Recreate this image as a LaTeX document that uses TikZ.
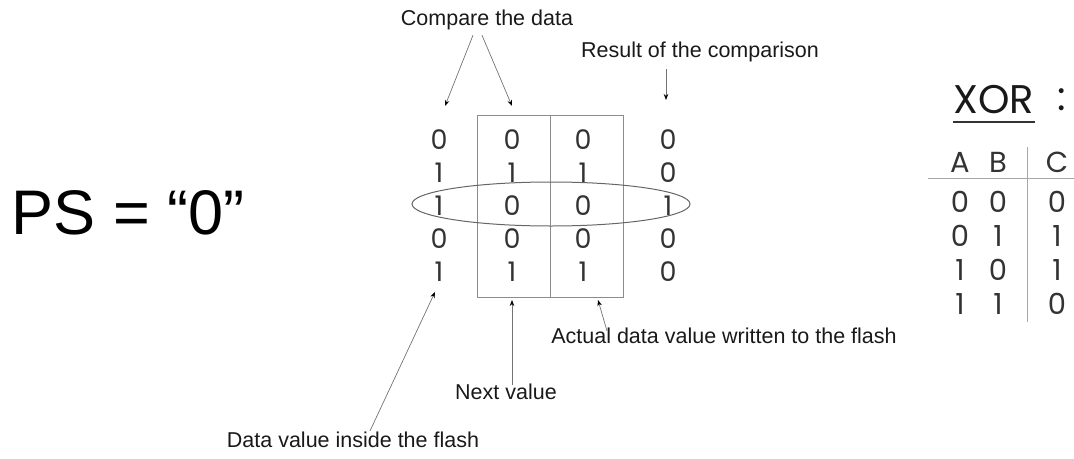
\documentclass[tikz,border=0pt]{standalone}
\usepackage{fontspec}
\setmainfont{Liberation Sans}
\newfontfamily\bitfont{Poppins}
\usetikzlibrary{arrows.meta}
\begin{document}
\begin{tikzpicture}[x=1pt,y=-1pt,>={Stealth[length=6pt,width=4.5pt,black]},
	  lbl/.style={font=\fontsize{21.5}{25}\selectfont,text=black!90,inner sep=1pt},
	  bit/.style={font=\bitfont\fontsize{27}{30}\selectfont,text=black!80,inner sep=1pt},
	  tab/.style={font=\bitfont\fontsize{29}{32}\selectfont,text=black!80,inner sep=1pt},
	  pointer/.style={->,draw=black!55,line width=0.7pt}]
	  \useasboundingbox (0,0) rectangle (1074,458);
	  % the two stored columns and the flash result
	  \draw[black!45,line width=0.8pt] (477,115) rectangle (623,297);
	  \draw[black!45,line width=0.8pt] (550,115) -- (550,297);
	  \foreach \n/\x/\bits in {a/439/{0,1,1,0,1},b/512/{0,1,0,0,1},c/583/{0,1,0,0,1},r/668/{0,0,1,0,0}}{
	    \foreach \v [count=\i] in \bits
	      \node[bit] (\n\i) at (\x,{107+33*\i}) {\v};
	  }
	  \draw[black!60,line width=1pt] (551,204) ellipse [x radius=139pt, y radius=22pt];
	  \node (ps) at (128,213) {\fontsize{63}{70}\selectfont PS = “0”};
	  % labels
	  \node[lbl] (cmp) at (487,20) {Compare the data};
	  \node[lbl] (res) at (700,52) {Result of the comparison};
	  \node[lbl] (act) at (724,336) {Actual data value written to the flash};
	  \node[lbl] (nxt) at (506,392) {Next value};
	  \node[lbl] (ins) at (353,440) {Data value inside the flash};
	  \coordinate (tA) at (445,106);
	  \coordinate (tB) at (512,106);
	  \coordinate (tR) at (666,100);
	  \coordinate (tI) at (435,292);
	  \coordinate (tN) at (512,300);
	  \coordinate (tC) at (598,300);
	  \draw[pointer] ([xshift=-14pt,yshift=-4pt]cmp.south) -- (tA);
	  \draw[pointer] ([xshift=-5pt,yshift=-4pt]cmp.south) -- (tB);
	  \draw[pointer] ([xshift=-34pt,yshift=-6pt]res.south) -- (tR);
	  \draw[pointer] ([xshift=17pt]ins.north) -- (tI);
	  \draw[pointer] ([xshift=6pt,yshift=-2pt]nxt.north) -- (tN);
	  \draw[pointer] ([xshift=-117pt,yshift=-4pt]act.north) -- (tC);
	  % XOR table
	  \node[font=\bitfont\fontsize{40}{44}\selectfont,text=black!90] (xor) at (994,100) {XOR};
	  \node[font=\bitfont\fontsize{40}{44}\selectfont,text=black!90] (colon) at (1062,100) {:};
	  \draw[black!80,line width=2.8pt] (953,122) -- (1035,122);
	  \node[tab] (hA) at (960,162) {A};
	  \node[tab] (hB) at (998,162) {B};
	  \node[tab] (hC) at (1057,162) {C};
	  \draw[black!35,line width=0.8pt] (928,178) -- (1074,178);
	  \draw[black!35,line width=0.8pt] (1027,147) -- (1027,322);
	  \foreach \p/\q/\s [count=\i] in {0/0/0,0/1/1,1/0/1,1/1/0}{
	    \node[tab] (xa\i) at (960,{168+34*\i}) {\p};
	    \node[tab] (xb\i) at (998,{168+34*\i}) {\q};
	    \node[tab] (xc\i) at (1057,{168+34*\i}) {\s};
	  }
	\end{tikzpicture}
\end{document}
